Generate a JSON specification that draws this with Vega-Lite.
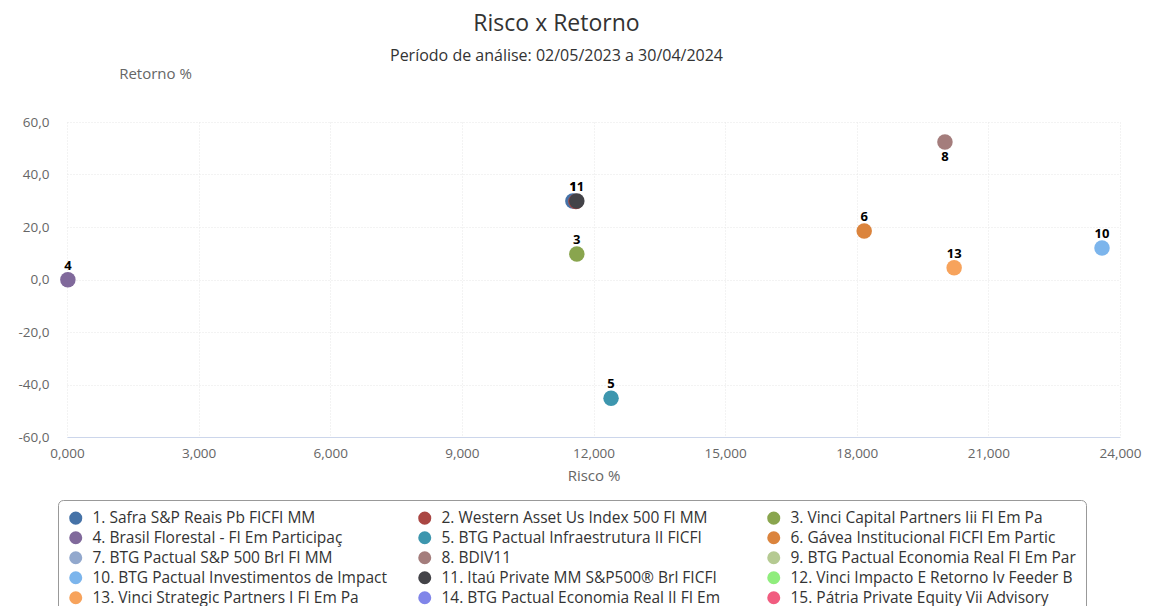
{
  "$schema": "https://vega.github.io/schema/vega-lite/v6.json",
  "autosize": "none",
  "width": 1053,
  "height": 315,
  "padding": {"left": 67, "top": 122, "right": 48, "bottom": 169},
  "background": "white",
  "title": {
    "text": "Risco x Retorno",
    "subtitle": "Período de análise: 02/05/2023 a 30/04/2024",
    "anchor": "middle",
    "frame": "group",
    "dx": -37,
    "fontSize": 23,
    "fontWeight": "normal",
    "color": "#333333",
    "subtitleFontSize": 16,
    "subtitleColor": "#333333",
    "subtitlePadding": 12,
    "font": "Open Sans",
    "subtitleFont": "Open Sans",
    "offset": 2
  },
  "data": {
    "values": [
      {"id": 1, "nome": "1. Safra S&P Reais Pb FICFI MM", "risco": 11.53, "retorno": 29.9},
      {"id": 2, "nome": "2. Western Asset Us Index 500 FI MM", "risco": 11.6, "retorno": 29.7},
      {"id": 3, "nome": "3. Vinci Capital Partners Iii FI Em Pa", "risco": 11.62, "retorno": 9.7},
      {"id": 4, "nome": "4. Brasil Florestal - FI Em Participaç", "risco": 0.02, "retorno": -0.1},
      {"id": 5, "nome": "5. BTG Pactual Infraestrutura II FICFI", "risco": 12.4, "retorno": -45.2},
      {"id": 6, "nome": "6. Gávea Institucional FICFI Em Partic", "risco": 18.17, "retorno": 18.5},
      {"id": 8, "nome": "8. BDIV11", "risco": 20.01, "retorno": 52.4},
      {"id": 10, "nome": "10. BTG Pactual Investimentos de Impact", "risco": 23.59, "retorno": 12.0},
      {"id": 11, "nome": "11. Itaú Private MM S&P500® Brl FICFI", "risco": 11.62, "retorno": 29.9},
      {"id": 13, "nome": "13. Vinci Strategic Partners I FI Em Pa", "risco": 20.22, "retorno": 4.5}
    ]
  },
  "encoding": {
    "x": {
      "field": "risco",
      "type": "quantitative",
      "scale": {"domain": [0, 24], "nice": false, "zero": false},
      "axis": {
        "title": "Risco %",
        "values": [0, 3, 6, 9, 12, 15, 18, 21, 24],
        "format": ".3f",
        "labelFlush": false,
        "labelOverlap": false,
        "labelPadding": 9,
        "titleY": 38,
        "titleBaseline": "middle",
        "domainColor": "#ccd6eb",
        "ticks": false
      }
    },
    "y": {
      "field": "retorno",
      "type": "quantitative",
      "scale": {"domain": [-60, 60], "nice": false, "zero": false},
      "axis": {
        "title": "Retorno %",
        "values": [-60, -40, -20, 0, 20, 40, 60],
        "format": ".1f",
        "labelFlush": false,
        "labelOverlap": false,
        "labelPadding": 18,
        "domain": false,
        "ticks": false,
        "titleAngle": 0,
        "titleX": 88,
        "titleY": -49,
        "titleAlign": "center",
        "titleBaseline": "middle"
      }
    }
  },
  "layer": [
    {
      "mark": {"type": "point", "filled": true, "opacity": 1, "size": 240},
      "encoding": {
        "color": {
          "field": "nome",
          "type": "nominal",
          "scale": {
            "domain": [
              "1. Safra S&P Reais Pb FICFI MM",
              "2. Western Asset Us Index 500 FI MM",
              "3. Vinci Capital Partners Iii FI Em Pa",
              "4. Brasil Florestal - FI Em Participaç",
              "5. BTG Pactual Infraestrutura II FICFI",
              "6. Gávea Institucional FICFI Em Partic",
              "7. BTG Pactual S&P 500 Brl FI MM",
              "8. BDIV11",
              "9. BTG Pactual Economia Real FI Em Par",
              "10. BTG Pactual Investimentos de Impact",
              "11. Itaú Private MM S&P500® Brl FICFI",
              "12. Vinci Impacto E Retorno Iv Feeder B",
              "13. Vinci Strategic Partners I FI Em Pa",
              "14. BTG Pactual Economia Real II FI Em",
              "15. Pátria Private Equity Vii Advisory"
            ],
            "range": ["#4572A7", "#AA4643", "#89A54E", "#80699B", "#3D96AE", "#DB843D", "#92A8CD", "#A47D7C", "#B5CA92", "#7CB5EC", "#434348", "#90ED7D", "#F7A35C", "#8085E9", "#F15C80"]
          },
          "legend": {
            "title": null,
            "orient": "none",
            "legendX": -9,
            "legendY": 378,
            "direction": "horizontal",
            "columns": 3,
            "gridAlign": "all",
            "columnPadding": 30,
            "rowPadding": 3,
            "padding": 10,
            "strokeColor": "#999999",
            "cornerRadius": 5,
            "symbolType": "circle",
            "symbolSize": 170,
            "symbolOpacity": 1,
            "symbolStrokeWidth": 0,
            "labelFontSize": 15.5,
            "labelColor": "#333333",
            "labelFont": "Open Sans",
            "labelOffset": 9,
            "labelLimit": 400,
            "symbolLimit": 15
          }
        }
      }
    },
    {
      "transform": [{"filter": "datum.retorno <= 45 && datum.id != 2"}],
      "mark": {"type": "text", "dy": -14, "fontSize": 13, "fontWeight": "bold", "color": "#000000", "font": "Open Sans"},
      "encoding": {"text": {"field": "id", "type": "nominal"}}
    },
    {
      "transform": [{"filter": "datum.retorno > 45"}],
      "mark": {"type": "text", "dy": 15, "fontSize": 13, "fontWeight": "bold", "color": "#000000", "font": "Open Sans"},
      "encoding": {"text": {"field": "id", "type": "nominal"}}
    }
  ],
  "config": {
    "locale": {
      "number": {"decimal": ",", "thousands": ".", "grouping": [3], "currency": ["R$", ""], "minus": "-"}
    },
    "view": {"stroke": null},
    "axis": {
      "labelFont": "Open Sans",
      "labelFontSize": 13.5,
      "labelColor": "#666666",
      "titleFont": "Open Sans",
      "titleFontSize": 15,
      "titleFontWeight": "normal",
      "titleColor": "#666666",
      "gridColor": "#e6e6e6",
      "gridDash": [1, 2]
    }
  }
}
